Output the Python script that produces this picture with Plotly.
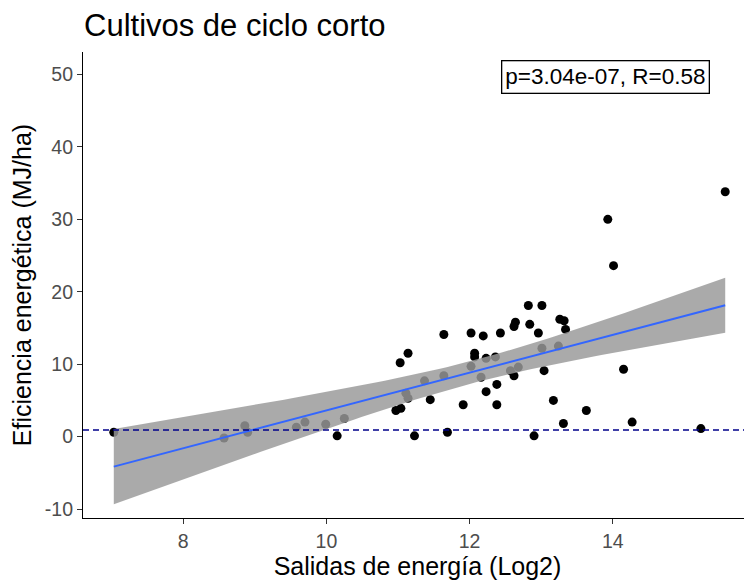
import numpy as np
import plotly.graph_objects as go

# Data (x = energy outputs Log2, y = energy efficiency)
x_vals = [7.03, 8.57, 8.86, 8.90, 9.58, 9.70, 9.99, 10.15, 10.25,
          10.97, 11.04, 11.03, 11.14, 11.11, 11.14, 11.23, 11.37, 11.45,
          11.64, 11.64, 11.69, 11.91, 12.02, 12.02, 12.07, 12.07, 12.16,
          12.19, 12.23, 12.23, 12.36, 12.38, 12.38, 12.43, 12.57, 12.62,
          12.62, 12.64, 12.68, 12.82, 12.84, 12.90, 12.96, 13.01, 13.01,
          13.04, 13.17, 13.24, 13.26, 13.31, 13.32, 13.34, 13.63, 13.93,
          14.01, 14.15, 14.27, 15.23, 15.57]
y_vals = [0.6, -0.2, 1.5, 0.6, 1.3, 2.0, 1.7, 0.1, 2.5,
          3.6, 3.9, 10.2, 11.5, 6.0, 5.3, 0.1, 7.7, 5.1,
          14.1, 8.4, 0.6, 4.4, 14.3, 9.7, 11.5, 11.0, 8.2,
          13.9, 10.8, 6.2, 11.0, 7.2, 4.4, 14.3, 9.1, 15.2,
          8.4, 15.8, 9.6, 18.1, 15.5, 0.1, 14.3, 18.1, 12.2,
          9.1, 5.0, 12.5, 16.2, 1.8, 16.0, 14.8, 3.6, 30.0,
          23.6, 9.3, 2.0, 1.1, 33.8]
ref_line = 0.9
x_ticks = [8, 10, 12, 14, 16]
y_ticks = [-10, 0, 10, 20, 30, 40, 50]
y_tick_labels = ["-10", "0", "10", "20", "30", "40", "50"]
stat_label = "p=3.04e-07, R=0.58"

# Linear regression with 95% confidence band (as geom_smooth(method="lm"))
x = np.array(x_vals)
y = np.array(y_vals)
n = len(x)
slope, intercept = np.polyfit(x, y, 1)
grid = np.linspace(x.min(), x.max(), 80)
fit = intercept + slope * grid
resid = y - (intercept + slope * x)
s = np.sqrt(np.sum(resid ** 2) / (n - 2))
se = s * np.sqrt(1 / n + (grid - x.mean()) ** 2 / np.sum((x - x.mean()) ** 2))
tval = 2.0
lo = fit - tval * se
hi = fit + tval * se

fig = go.Figure()
fig.add_trace(go.Scatter(x=x, y=y, mode="markers",
                         marker=dict(color="black", size=9, line=dict(width=0)),
                         showlegend=False))
fig.add_trace(go.Scatter(x=np.concatenate([grid, grid[::-1]]),
                         y=np.concatenate([hi, lo[::-1]]),
                         mode="lines", line=dict(width=0),
                         fill="toself", fillcolor="rgba(153,153,153,0.83)",
                         showlegend=False, hoverinfo="skip"))
fig.add_trace(go.Scatter(x=grid, y=fit, mode="lines",
                         line=dict(color="#3366FF", width=2),
                         showlegend=False))
fig.add_hline(y=ref_line, line=dict(color="#00008B", width=1.5, dash="6px,4px"))

font_family = "Liberation Sans, Arial, sans-serif"
fig.add_annotation(text=stat_label, xref="paper", yref="paper",
                   x=0.781, y=0.946, xanchor="center", yanchor="middle",
                   showarrow=False,
                   font=dict(family=font_family, size=22.5, color="black"),
                   bordercolor="black", borderwidth=1.3, borderpad=3, bgcolor="white")

# The page body adds an 8px offset, so the figure covers the visible 744x574 area.
W, H = 744, 574
fig.update_layout(
    width=W, height=H,
    margin=dict(l=75, r=0, t=44, b=64),
    paper_bgcolor="white", plot_bgcolor="white",
    font=dict(family=font_family),
    title=dict(text="Cultivos de ciclo corto", x=76 / W, xanchor="left",
               xref="container", yref="container", y=1 - 6 / H, yanchor="top",
               font=dict(size=31, color="black", family=font_family)),
)
fig.update_xaxes(range=[6.60, 15.944], tickvals=x_ticks, showgrid=False, zeroline=False,
                 showline=True, linecolor="black", linewidth=1.2,
                 ticks="outside", ticklen=5, tickcolor="#333333", tickwidth=1.2,
                 tickfont=dict(size=19.5, color="#4D4D4D"),
                 title=dict(text="Salidas de energía (Log2)", standoff=4,
                            font=dict(size=25, color="black")))
fig.update_yaxes(range=[-11.24, 53.1], tickvals=y_ticks, ticktext=y_tick_labels,
                 showgrid=False, zeroline=False,
                 showline=True, linecolor="black", linewidth=1.2,
                 ticks="outside", ticklen=5, tickcolor="#333333", tickwidth=1.2,
                 tickfont=dict(size=19.5, color="#4D4D4D"),
                 title=dict(text="Eficiencia energética (MJ/ha)", standoff=6,
                            font=dict(size=25, color="black")))

fig.write_html("out.html")
